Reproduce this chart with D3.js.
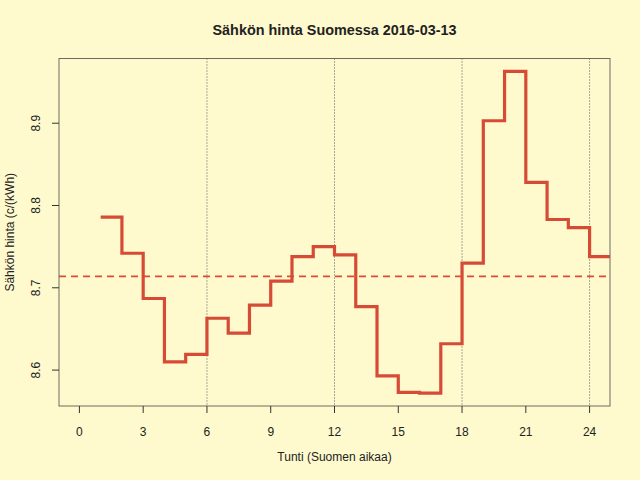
<!DOCTYPE html>
<html>
<head>
<meta charset="utf-8">
<script src="https://cdn.jsdelivr.net/npm/d3@7"></script>
<style>
  body { margin: 0; background: #fffacd; }
  text { font-family: "Liberation Sans", Arial, sans-serif; fill: #222; }
</style>
</head>
<body>
<script>
// hourly price, c/kWh
var hours = [1,2,3,4,5,6,7,8,9,10,11,12,13,14,15,16,17,18,19,20,21,22,23,24];
var prices = [8.786,8.742,8.687,8.610,8.619,8.663,8.645,8.679,8.708,8.738,8.750,8.740,
              8.677,8.593,8.573,8.572,8.632,8.730,8.903,8.963,8.828,8.783,8.773,8.738];
var xTicks = [0,3,6,9,12,15,18,21,24];
var yTicks = [8.6,8.7,8.8,8.9];
var gridHours = [6,12,18,24];

var w = 640, h = 480;
var margin = {top: 58.5, right: 30, bottom: 74, left: 59};
var x0 = margin.left, x1 = w - margin.right,
    y0 = margin.top, y1 = h - margin.bottom;

var svg = d3.select("body").append("svg")
  .attr("width", w)
  .attr("height", h);

svg.append("rect").attr("width", w).attr("height", h).attr("fill", "#fffacd");

// R style 4% expansion
var xr = [0, 24], xpad = (xr[1] - xr[0]) * 0.04;
var x = d3.scaleLinear().domain([xr[0] - xpad, xr[1] + xpad]).range([x0, x1]);
var ymin = d3.min(prices), ymax = d3.max(prices), ypad = (ymax - ymin) * 0.04;
var y = d3.scaleLinear().domain([ymin - ypad, ymax + ypad]).range([y1, y0]);

svg.append("clipPath").attr("id", "clip")
  .append("rect").attr("x", x0).attr("y", y0).attr("width", x1 - x0).attr("height", y1 - y0);

var plot = svg.append("g").attr("clip-path", "url(#clip)");

// vertical dotted lines
plot.selectAll(".vl").data(gridHours).enter().append("line")
  .attr("x1", d => x(d)).attr("x2", d => x(d))
  .attr("y1", y0).attr("y2", y1)
  .attr("stroke", "#555").attr("stroke-width", 1)
  .attr("stroke-dasharray", "1,2");

// average dashed line
var avg = d3.mean(prices);
plot.append("line")
  .attr("x1", x0).attr("x2", x1)
  .attr("y1", y(avg)).attr("y2", y(avg))
  .attr("stroke", "#e0483a").attr("stroke-width", 1.6)
  .attr("stroke-dasharray", "7,5");

// step line, last hour held for one more hour
var pts = hours.map((hr, i) => [hr, prices[i]]);
pts.push([hours[hours.length - 1] + 1, prices[prices.length - 1]]);
var line = d3.line().x(d => x(d[0])).y(d => y(d[1])).curve(d3.curveStepAfter);
plot.append("path").datum(pts)
  .attr("d", line)
  .attr("fill", "none")
  .attr("stroke", "#d64b36")
  .attr("stroke-width", 3.2);

// box
svg.append("rect")
  .attr("x", x0).attr("y", y0).attr("width", x1 - x0).attr("height", y1 - y0)
  .attr("fill", "none").attr("stroke", "#6e6a5e").attr("stroke-width", 1);

// x axis
var xa = svg.append("g");
xa.selectAll("line").data(xTicks).enter().append("line")
  .attr("x1", d => x(d)).attr("x2", d => x(d))
  .attr("y1", y1).attr("y2", y1 + 7)
  .attr("stroke", "#333");
xa.selectAll("text").data(xTicks).enter().append("text")
  .attr("x", d => x(d)).attr("y", y1 + 30)
  .attr("text-anchor", "middle")
  .attr("font-size", 12)
  .text(d => d);

// y axis
var ya = svg.append("g");
ya.selectAll("line").data(yTicks).enter().append("line")
  .attr("x1", x0 - 7).attr("x2", x0)
  .attr("y1", d => y(d)).attr("y2", d => y(d))
  .attr("stroke", "#333");
ya.selectAll("text").data(yTicks).enter().append("text")
  .attr("transform", d => "translate(" + (x0 - 19) + "," + y(d) + ") rotate(-90)")
  .attr("text-anchor", "middle")
  .attr("font-size", 12)
  .text(d => d3.format(".1f")(d));

// labels
svg.append("text")
  .attr("x", (x0 + x1) / 2).attr("y", 35)
  .attr("text-anchor", "middle")
  .attr("font-size", 14.4).attr("font-weight", "bold")
  .text("Sähkön hinta Suomessa 2016-03-13");

svg.append("text")
  .attr("x", (x0 + x1) / 2).attr("y", 461)
  .attr("text-anchor", "middle")
  .attr("font-size", 12)
  .text("Tunti (Suomen aikaa)");

svg.append("text")
  .attr("transform", "translate(14," + (y0 + y1) / 2 + ") rotate(-90)")
  .attr("text-anchor", "middle")
  .attr("font-size", 12)
  .text("Sähkön hinta (c/(kWh)");
</script>
</body>
</html>
